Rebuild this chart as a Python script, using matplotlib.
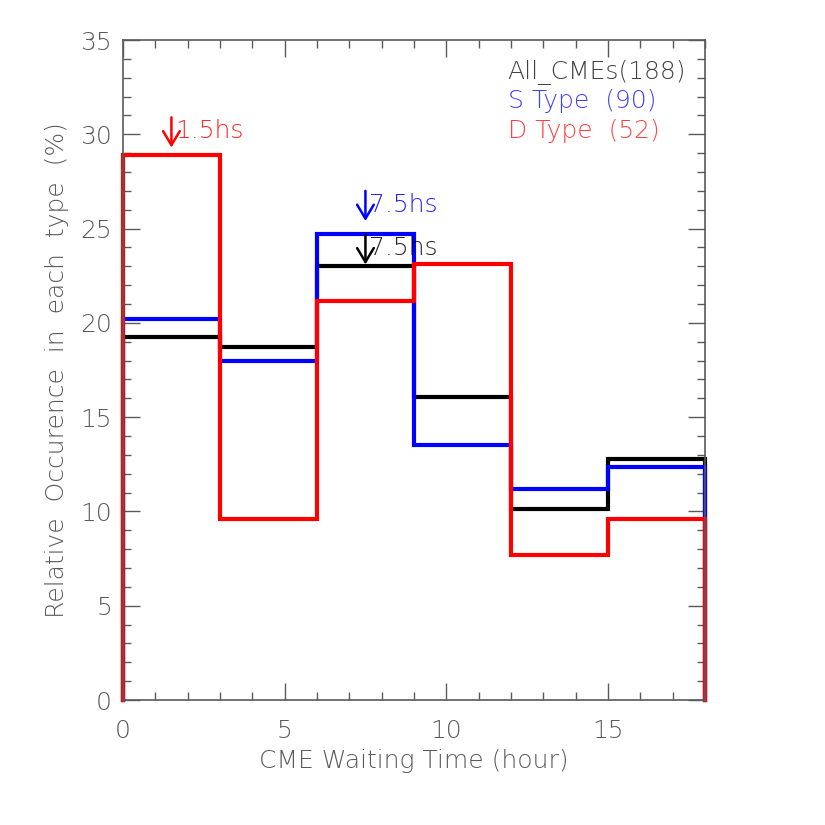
import numpy as np
import matplotlib
matplotlib.use('Agg')
import matplotlib.pyplot as plt

# bin edges (hours) and relative occurrence (%)
edges = [0, 3, 6, 9, 12, 15, 18]
all_cmes = [19.25, 18.7, 23.0, 16.05, 10.15, 12.8]
s_type = [20.2, 18.0, 24.7, 13.5, 11.2, 12.35]
d_type = [28.9, 9.6, 21.15, 23.1, 7.7, 9.6]

# median markers: (x, arrow top, arrow bottom, label)
marks = [
    (1.5, 30.9, 29.3, '1.5hs', 'red'),
    (7.5, 27.0, 25.4, '7.5hs', 'blue'),
    (7.5, 24.7, 23.1, '7.5hs', 'black'),
]

axis_grey = '#5a5a5a'
plt.rcParams['font.family'] = ['DejaVu Sans']
plt.rcParams['font.weight'] = 'light'
plt.rcParams['axes.labelweight'] = 'light'


def step_outline(edges, vals):
    xs = [edges[0]]
    ys = [0]
    for i, v in enumerate(vals):
        xs += [edges[i], edges[i + 1]]
        ys += [v, v]
    xs.append(edges[-1])
    ys.append(0)
    return xs, ys


fig = plt.figure(figsize=(8.25, 8.25), dpi=100)
ax = fig.add_axes([0.149, 0.1515, 0.7055, 0.8])

for vals, col in [(all_cmes, 'black'), (s_type, 'blue'), (d_type, 'red')]:
    xs, ys = step_outline(edges, vals)
    ax.plot(xs, ys, color=col, lw=3, solid_joinstyle='miter', clip_on=False)

for x, y0, y1, lab, col in marks:
    ax.annotate('', xy=(x, y1), xytext=(x, y0),
                arrowprops=dict(arrowstyle='->,head_length=0.5,head_width=0.3',
                                mutation_scale=20, color=col, lw=1.8,
                                shrinkA=0, shrinkB=0))
    ax.text(x + 0.12, (y0 + y1) / 2 + 0.05, lab, color=col, fontsize=18,
            va='center', ha='left', alpha=0.85, fontweight='light')

legend_rows = [('All_CMEs(188)', 'black', 33.3),
               ('S Type  (90)', 'blue', 31.75),
               ('D Type  (52)', 'red', 30.15)]
for txt, col, yy in legend_rows:
    ax.text(11.9, yy, txt, color=col, fontsize=18, alpha=0.75, va='center',
            fontweight='light')

ax.set_xlim(0, 18)
ax.set_ylim(0, 35)
ax.set_xticks([0, 5, 10, 15])
ax.set_yticks(np.arange(0, 36, 5))
ax.set_xticks(np.arange(0, 19, 1), minor=True)
ax.set_yticks(np.arange(0, 36, 1), minor=True)
ax.tick_params(which='both', direction='in', top=True, right=True,
               color=axis_grey, labelcolor=axis_grey, labelsize=18)
ax.tick_params(which='major', length=12, width=1)
ax.tick_params(which='minor', length=6, width=1)
ax.tick_params(axis='x', pad=14)
ax.tick_params(axis='y', pad=8)
for sp in ax.spines.values():
    sp.set_color(axis_grey)
    sp.set_linewidth(1.2)

ax.set_xlabel('CME Waiting Time (hour)', color=axis_grey, fontsize=18,
              labelpad=4, fontweight='light')
ax.set_ylabel('Relative  Occurence  in  each  type  (%)', color=axis_grey,
              fontsize=18, labelpad=8, fontweight='light')

fig.savefig('out.png', dpi=100, facecolor='white')
